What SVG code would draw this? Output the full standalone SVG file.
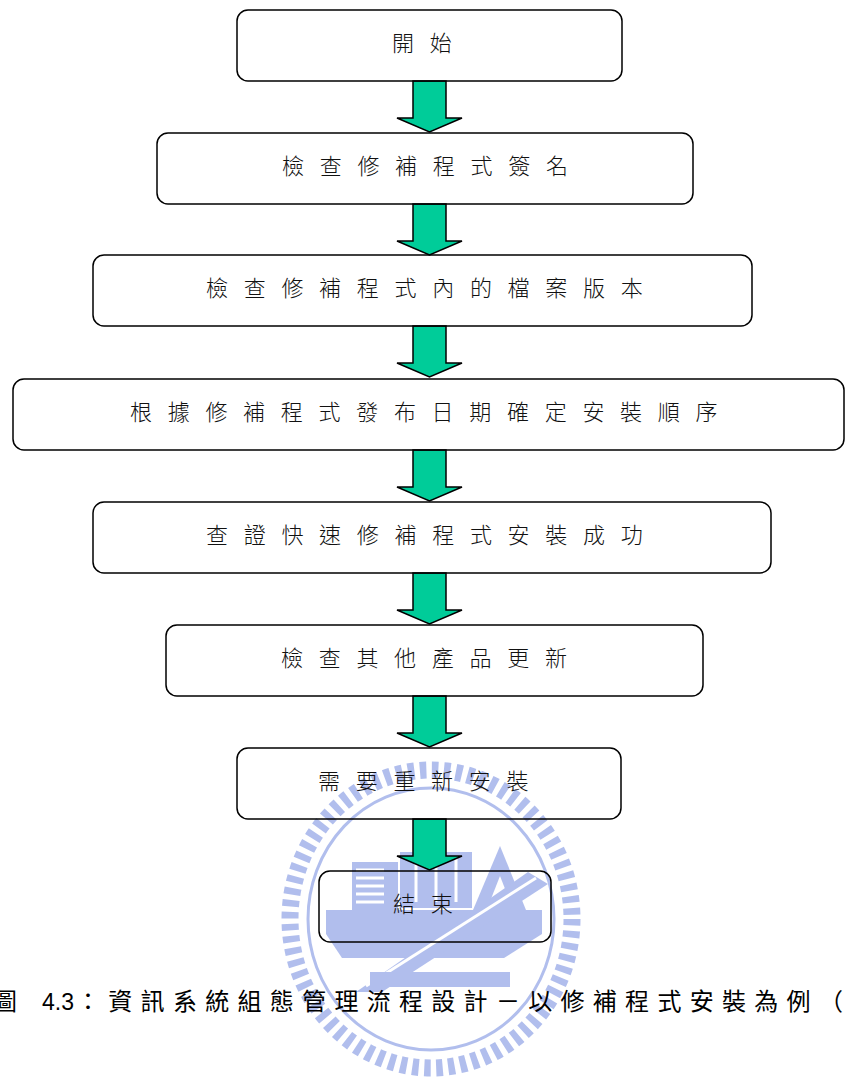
<svg xmlns="http://www.w3.org/2000/svg" width="845" height="1086" viewBox="0 0 845 1086">
  <defs>
    <style>
      .box { fill: none; stroke: #000; stroke-width: 1.5; }
      .arrow { fill: #00cc99; stroke: #000; stroke-width: 1.5; stroke-linejoin: miter; }
      .label { font-family: "Noto Sans CJK TC", "Noto Sans CJK SC", sans-serif; font-size: 22px; font-weight: 300; letter-spacing: 15.7px; fill: #111; }
      .caption { font-family: "Noto Sans CJK TC", "Noto Sans CJK SC", sans-serif; font-size: 24px; fill: #000; }
      .wm { fill: #a9b8ec; }
      .wm-line { fill: none; stroke: #a9b8ec; }
      .wm-gap { fill: none; stroke: #fff; }
    </style>
    <!-- one downward block arrow, drawn at the origin: shaft 33 wide, head 65 wide -->
    <symbol id="down-arrow" overflow="visible">
      <path class="arrow" d="M-16.5,0 L16.5,0 L16.5,37 L32.5,37 L0,51 L-32.5,37 L-16.5,37 Z"/>
    </symbol>
  </defs>

  <rect width="845" height="1086" fill="#fff"/>

  <!-- faint emblem behind the lower part of the chart -->
  <g id="watermark" opacity="0.9">
    <ellipse class="wm-line" cx="431" cy="919" rx="141" ry="149" stroke-width="17" stroke-dasharray="6.5 5.5"/>
    <ellipse class="wm-line" cx="431" cy="919" rx="123" ry="131" stroke-width="3"/>
    <rect class="wm" x="352" y="862" width="46" height="48"/>
    <path class="wm-gap" stroke-width="3" d="M356,870 H384 M356,878 H384 M356,886 H384 M356,894 H384 M356,902 H384"/>
    <rect class="wm" x="400" y="852" width="72" height="56"/>
    <path class="wm-gap" stroke-width="3" d="M416,858 V902 M436,858 V902 M456,858 V902"/>
    <polygon class="wm" points="473,910 500,846 526,910"/>
    <polygon points="489,904 500,876 511,904" fill="#fff"/>
    <polygon class="wm" points="326,910 542,910 542,934 504,958 342,958 326,934"/>
    <polygon class="wm" points="356,992 382,992 548,884 528,872"/>
    <path class="wm-gap" stroke-width="3" d="M366,986 L536,878"/>
    <rect class="wm" x="370" y="972" width="140" height="15"/>
  </g>

  <!-- connectors: block arrows between consecutive steps -->
  <g id="connectors">
    <use href="#down-arrow" x="429.5" y="81"/>
    <use href="#down-arrow" x="429.5" y="204"/>
    <use href="#down-arrow" x="429.5" y="326"/>
    <use href="#down-arrow" x="429.5" y="450"/>
    <use href="#down-arrow" x="429.5" y="573"/>
    <use href="#down-arrow" x="429.5" y="696"/>
    <use href="#down-arrow" x="429.5" y="819"/>
  </g>

  <g id="start">
    <rect class="box" x="237" y="10" width="385" height="71" rx="11"/>
    <text class="label" x="392" y="51">開始</text>
  </g>
  <g id="check-signature">
    <rect class="box" x="157" y="133" width="536" height="71" rx="11"/>
    <text class="label" x="282" y="174">檢查修補程式簽名</text>
  </g>
  <g id="check-file-version">
    <rect class="box" x="93" y="255" width="659" height="71" rx="11"/>
    <text class="label" x="206" y="296">檢查修補程式內的檔案版本</text>
  </g>
  <g id="install-order">
    <rect class="box" x="13" y="379" width="831" height="71" rx="11"/>
    <text class="label" x="130" y="420">根據修補程式發布日期確定安裝順序</text>
  </g>
  <g id="verify-install">
    <rect class="box" x="93" y="502" width="678" height="71" rx="11"/>
    <text class="label" x="206" y="543">查證快速修補程式安裝成功</text>
  </g>
  <g id="other-updates">
    <rect class="box" x="166" y="625" width="537" height="71" rx="11"/>
    <text class="label" x="281" y="666">檢查其他產品更新</text>
  </g>
  <g id="reinstall">
    <rect class="box" x="237" y="748" width="384" height="71" rx="11"/>
    <text class="label" x="318" y="789">需要重新安裝</text>
  </g>
  <g id="end">
    <rect class="box" x="319" y="871" width="232" height="71" rx="11"/>
    <text class="label" x="393" y="912">結束</text>
  </g>

  <g id="caption">
    <text class="caption" x="-7" y="1010">圖</text>
    <text x="42" y="1010" font-family="Liberation Sans, Arial, sans-serif" font-size="23">4.3</text>
    <text class="caption" x="76" y="1010" letter-spacing="8.3">：資訊系統組態管理流程設計－以修補程式安裝為例（</text>
  </g>
</svg>
